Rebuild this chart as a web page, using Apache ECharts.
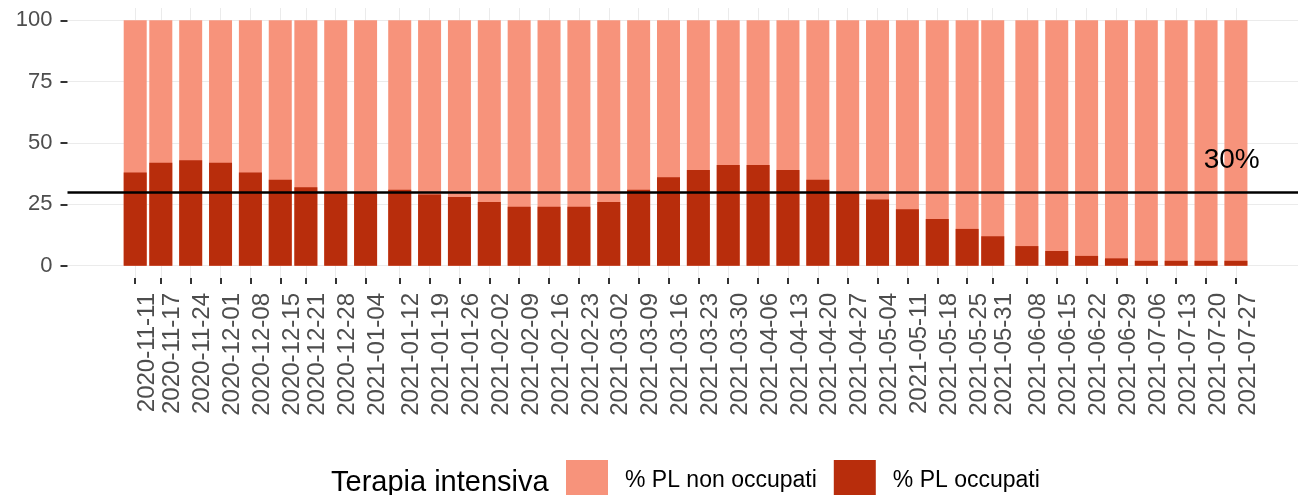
<!DOCTYPE html>
<html>
<head>
<meta charset="utf-8">
<title>Terapia intensiva</title>
<script src="https://cdn.jsdelivr.net/npm/echarts@6/dist/echarts.min.js"></script>
<style>
  html, body { margin: 0; padding: 0; background: #fff; }
  #chart { width: 1298px; height: 495px; }
</style>
</head>
<body>
<div id="chart"></div>
<script>
var dates = ['2020-11-11', '2020-11-17', '2020-11-24', '2020-12-01', '2020-12-08', '2020-12-15',
  '2020-12-21', '2020-12-28', '2021-01-04', '2021-01-12', '2021-01-19', '2021-01-26',
  '2021-02-02', '2021-02-09', '2021-02-16', '2021-02-23', '2021-03-02', '2021-03-09',
  '2021-03-16', '2021-03-23', '2021-03-30', '2021-04-06', '2021-04-13', '2021-04-20',
  '2021-04-27', '2021-05-04', '2021-05-11', '2021-05-18', '2021-05-25', '2021-05-31',
  '2021-06-08', '2021-06-15', '2021-06-22', '2021-06-29', '2021-07-06', '2021-07-13',
  '2021-07-20', '2021-07-27'];

var occupati = [38, 42, 43, 42, 38, 35, 32, 30, 30, 31, 29, 28, 26, 24, 24, 24, 26, 31,
  36, 39, 41, 41, 39, 35, 30, 27, 23, 19, 15, 12, 8, 6, 4, 3, 2, 2, 2, 2];

var nonOccupati = [62, 58, 57, 58, 62, 65, 68, 70, 70, 69, 71, 72, 74, 76, 76, 76, 74, 69,
  64, 61, 59, 59, 61, 65, 70, 73, 77, 81, 85, 88, 92, 94, 96, 97, 98, 98, 98, 98];

var yTicks = [0, 25, 50, 75, 100];

var soglia = 30;
var sogliaLabel = '30%';
var sogliaLabelPos = ['2021-07-26', 43];

var seriesNames = ['% PL non occupati', '% PL occupati'];
var legendTitle = 'Terapia intensiva';

var DAY = 24 * 3600 * 1000;

var toTs = function (s) {
  var p = s.split('-');
  return new Date(+p[0], +p[1] - 1, +p[2]).getTime();
};

var pad2 = function (n) {
  return (n < 10 ? '0' : '') + n;
};

var fmtDate = function (v) {
  var d = new Date(v);
  return d.getFullYear() + '-' + pad2(d.getMonth() + 1) + '-' + pad2(d.getDate());
};

var ts = dates.map(toTs);

// ggplot-like expansion: 5% of range incl. bar width (0.9 * 6 days)
// right side is a bit less: the original figure is cropped at its edge
var barDays = 0.9 * 6;
var span = ts[ts.length - 1] - ts[0] + barDays * DAY;
var xMin = ts[0] - barDays * DAY / 2 - 0.05 * span;
var xMax = ts[ts.length - 1] + barDays * DAY / 2 + 0.045 * span;

// the light bar sits on top of the dark one: its top is occupati + non occupati
var topData = ts.map(function (t, i) { return [t, occupati[i] + nonOccupati[i]]; });
var bottomData = ts.map(function (t, i) { return [t, occupati[i]]; });

var font = "'Liberation Sans', Arial, sans-serif";

var option = {
  animation: false,
  backgroundColor: '#fff',
  textStyle: { fontFamily: font },
  grid: { left: 67.5, right: 0, top: 8, bottom: 217 },
  legend: {
    data: seriesNames,
    left: 566,
    top: 460,
    padding: 0,
    icon: 'rect',
    itemWidth: 42,
    itemHeight: 42,
    itemGap: 17,
    selectedMode: false,
    textStyle: { fontSize: 23, color: '#000', fontFamily: font, padding: [0, 0, 0, 12] }
  },
  graphic: [{
    type: 'text',
    left: 331,
    top: 468,
    style: { text: legendTitle, fontSize: 29, fill: '#000', fontFamily: font }
  }],
  xAxis: {
    type: 'value',
    min: xMin,
    max: xMax,
    axisLine: { show: false, onZero: false },
    axisTick: {
      show: true,
      customValues: ts,
      length: 6,
      lineStyle: { color: '#333', width: 2 }
    },
    axisLabel: {
      customValues: ts,
      rotate: 90,
      margin: 15,
      fontSize: 24,
      color: '#4d4d4d',
      fontFamily: font,
      verticalAlign: 'top',
      formatter: function (v) { return fmtDate(v); }
    },
    splitLine: { show: true, lineStyle: { color: '#ebebeb', width: 1 } }
  },
  yAxis: {
    type: 'value',
    min: -5,
    max: 105,
    axisLine: { show: false },
    axisTick: {
      show: true,
      customValues: yTicks,
      length: 7,
      lineStyle: { color: '#333', width: 2 }
    },
    axisLabel: {
      customValues: yTicks,
      margin: 15,
      fontSize: 22,
      color: '#4d4d4d',
      fontFamily: font
    },
    splitLine: { show: true, lineStyle: { color: '#ebebeb', width: 1 } }
  },
  series: [
    {
      name: seriesNames[0],
      type: 'bar',
      barWidth: 23,
      barGap: '-100%',
      itemStyle: { color: '#f7937b' },
      data: topData
    },
    {
      name: seriesNames[1],
      type: 'bar',
      barWidth: 23,
      barGap: '-100%',
      itemStyle: { color: '#b82d0c' },
      data: bottomData,
      markLine: {
        silent: true,
        symbol: ['none', 'none'],
        label: { show: false },
        lineStyle: { color: '#000', width: 2.5, type: 'solid' },
        data: [{ yAxis: soglia }]
      },
      markPoint: {
        silent: true,
        symbol: 'circle',
        symbolSize: 0,
        data: [{
          coord: [toTs(sogliaLabelPos[0]), sogliaLabelPos[1]],
          label: {
            show: true,
            formatter: sogliaLabel,
            position: 'inside',
            fontSize: 28,
            color: '#000',
            fontFamily: font
          }
        }]
      }
    }
  ]
};

var chart = echarts.init(document.getElementById('chart'));
chart.setOption(option);
</script>
</body>
</html>
